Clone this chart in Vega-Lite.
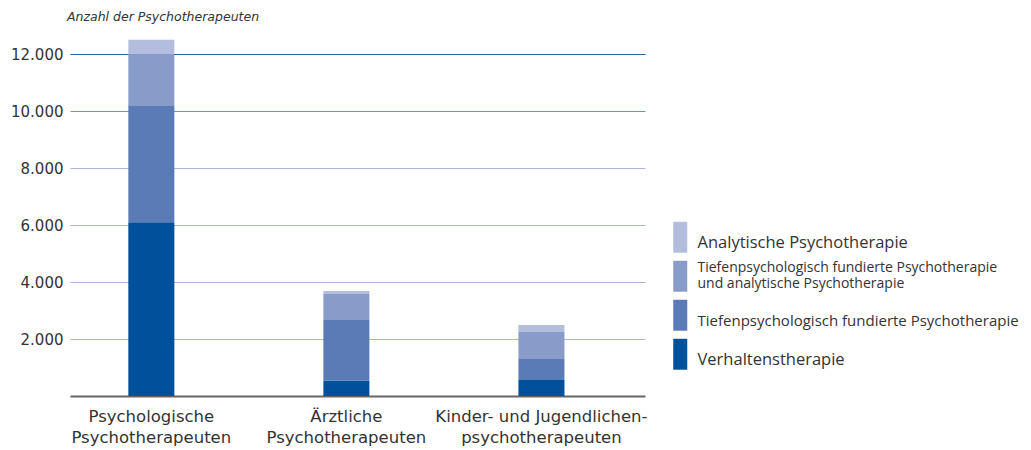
{
  "$schema": "https://vega.github.io/schema/vega-lite/v6.json",
  "width": 575,
  "height": 342,
  "autosize": {"type": "none"},
  "padding": {"left": 70, "top": 54, "right": 386, "bottom": 54},
  "background": "white",
  "title": {
    "text": "Anzahl der Psychotherapeuten",
    "anchor": "start",
    "frame": "group",
    "offset": 16,
    "font": "DejaVu Sans",
    "fontStyle": "italic",
    "fontWeight": "normal",
    "fontSize": 12.5,
    "color": "#333333",
    "dx": -3
  },
  "data": {
    "values": [
      {"gruppe": "Psychologische Psychotherapeuten", "verfahren": "Verhaltenstherapie", "ord": 1, "anzahl": 6100},
      {"gruppe": "Psychologische Psychotherapeuten", "verfahren": "Tiefenpsychologisch fundierte Psychotherapie", "ord": 2, "anzahl": 4100},
      {"gruppe": "Psychologische Psychotherapeuten", "verfahren": "Tiefenpsychologisch fundierte Psychotherapie und analytische Psychotherapie", "ord": 3, "anzahl": 1800},
      {"gruppe": "Psychologische Psychotherapeuten", "verfahren": "Analytische Psychotherapie", "ord": 4, "anzahl": 500},
      {"gruppe": "Ärztliche Psychotherapeuten", "verfahren": "Verhaltenstherapie", "ord": 1, "anzahl": 540},
      {"gruppe": "Ärztliche Psychotherapeuten", "verfahren": "Tiefenpsychologisch fundierte Psychotherapie", "ord": 2, "anzahl": 2130},
      {"gruppe": "Ärztliche Psychotherapeuten", "verfahren": "Tiefenpsychologisch fundierte Psychotherapie und analytische Psychotherapie", "ord": 3, "anzahl": 910},
      {"gruppe": "Ärztliche Psychotherapeuten", "verfahren": "Analytische Psychotherapie", "ord": 4, "anzahl": 100},
      {"gruppe": "Kinder- und Jugendlichenpsychotherapeuten", "verfahren": "Verhaltenstherapie", "ord": 1, "anzahl": 560},
      {"gruppe": "Kinder- und Jugendlichenpsychotherapeuten", "verfahren": "Tiefenpsychologisch fundierte Psychotherapie", "ord": 2, "anzahl": 740},
      {"gruppe": "Kinder- und Jugendlichenpsychotherapeuten", "verfahren": "Tiefenpsychologisch fundierte Psychotherapie und analytische Psychotherapie", "ord": 3, "anzahl": 950},
      {"gruppe": "Kinder- und Jugendlichenpsychotherapeuten", "verfahren": "Analytische Psychotherapie", "ord": 4, "anzahl": 240}
    ]
  },
  "mark": {"type": "bar", "clip": false},
  "encoding": {
    "x": {
      "field": "gruppe",
      "type": "nominal",
      "sort": ["Psychologische Psychotherapeuten", "Ärztliche Psychotherapeuten", "Kinder- und Jugendlichenpsychotherapeuten"],
      "scale": {"paddingInner": 0.764, "paddingOuter": 0.356, "align": 0.42},
      "axis": {
        "title": null,
        "labelAngle": 0,
        "ticks": false,
        "domainColor": "#666666",
        "domainWidth": 2,
        "labelFont": "DejaVu Sans",
        "labelFontSize": 16.5,
        "labelColor": "#333333",
        "labelPadding": 12,
        "labelLimit": 400,
        "labelLineHeight": 21,
        "labelExpr": "datum.value == 'Psychologische Psychotherapeuten' ? ['Psychologische', 'Psychotherapeuten'] : datum.value == 'Ärztliche Psychotherapeuten' ? ['Ärztliche', 'Psychotherapeuten'] : ['Kinder- und Jugendlichen-', 'psychotherapeuten']"
      }
    },
    "y": {
      "field": "anzahl",
      "type": "quantitative",
      "stack": "zero",
      "scale": {"domain": [0, 12000], "nice": false},
      "axis": {
        "title": null,
        "values": [2000, 4000, 6000, 8000, 10000, 12000],
        "domain": false,
        "ticks": false,
        "labelPadding": 7,
        "labelFont": "DejaVu Sans",
        "labelFontSize": 15,
        "labelColor": "#333333",
        "labelExpr": "replace(format(datum.value, ','), ',', '.')",
        "gridWidth": 1,
        "gridColor": {
          "condition": [
            {"test": "datum.value == 12000", "value": "#2d5fa3"},
            {"test": "datum.value == 10000", "value": "#7391c8"}
          ],
          "value": "#a9b6dc"
        }
      }
    },
    "color": {
      "field": "verfahren",
      "type": "nominal",
      "sort": ["Analytische Psychotherapie", "Tiefenpsychologisch fundierte Psychotherapie und analytische Psychotherapie", "Tiefenpsychologisch fundierte Psychotherapie", "Verhaltenstherapie"],
      "scale": {
        "domain": ["Analytische Psychotherapie", "Tiefenpsychologisch fundierte Psychotherapie und analytische Psychotherapie", "Tiefenpsychologisch fundierte Psychotherapie", "Verhaltenstherapie"],
        "range": ["#b3bedf", "#899bc9", "#5a7bb6", "#00509b"]
      },
      "legend": {
        "title": null,
        "orient": "none",
        "legendX": 602,
        "legendY": 175,
        "symbolType": "M-1,-2.21V2.21H1V-2.21Z",
        "symbolSize": 196,
        "symbolStrokeWidth": 0,
        "symbolOpacity": 1,
        "rowPadding": 7,
        "labelOffset": 9,
        "labelFont": "Open Sans",
        "labelFontSize": 15,
        "labelColor": "#333333",
        "labelLimit": 400,
        "labelLineHeight": 16,
        "labelBaseline": "middle",
        "labelExpr": "datum.value == 'Tiefenpsychologisch fundierte Psychotherapie und analytische Psychotherapie' ? ['Tiefenpsychologisch fundierte Psychotherapie', 'und analytische Psychotherapie'] : datum.value",
        "encode": {
          "symbols": {
            "update": {
              "shape": {"value": "M-1,-2.21V2.21H1V-2.21Z"},
              "size": {"value": 196},
              "strokeWidth": {"value": 0}
            }
          },
          "labels": {
            "update": {
              "fontSize": {"signal": "datum.value == 'Tiefenpsychologisch fundierte Psychotherapie und analytische Psychotherapie' ? 14 : datum.value == 'Tiefenpsychologisch fundierte Psychotherapie' ? 15 : 16.5"},
              "dy": {"signal": "datum.value == 'Tiefenpsychologisch fundierte Psychotherapie und analytische Psychotherapie' ? -8 : 6"}
            }
          }
        }
      }
    },
    "order": {"field": "ord", "type": "quantitative"}
  },
  "config": {
    "view": {"stroke": null},
    "font": "Open Sans"
  }
}
